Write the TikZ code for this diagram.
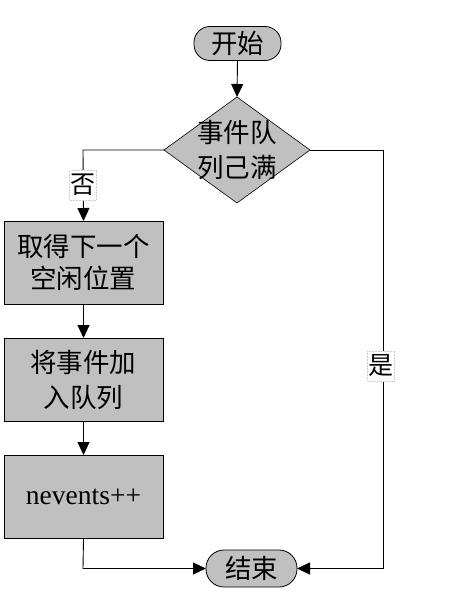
\documentclass[tikz,border=0pt]{standalone}
\usepackage{fontspec}
\setmainfont{Liberation Serif}
\newfontfamily\cjk{Noto Sans CJK SC}
\usetikzlibrary{shapes.geometric,arrows.meta}
\definecolor{boxgray}{HTML}{C0C0C0}
\tikzset{
  every node/.style={inner sep=0pt, outer sep=0pt},
  term/.style={draw=black, line width=0.8pt, fill=boxgray, rounded corners=16pt, minimum width=87pt, minimum height=34pt},
  procbox/.style={draw=black, line width=0.8pt, fill=boxgray, minimum width=159pt, minimum height=83pt},
  decbox/.style={draw=black, line width=0.6pt, fill=boxgray, diamond, minimum width=146pt, minimum height=106pt},
  txt/.style={font=\cjk\fontsize{26.5}{35}\selectfont, align=center, text=black},
  lbl/.style={fill=white, draw=gray!40, densely dotted, line width=0.5pt, inner xsep=1pt, inner ysep=4pt, font=\cjk\fontsize{25}{30}\selectfont},
  conn/.style={draw=black, line width=0.9pt, -{Triangle[width=12pt,length=13pt]}},
  plainline/.style={draw=black, line width=0.9pt}
}
\begin{document}
\begin{tikzpicture}[x=1pt,y=-1pt]
\useasboundingbox (0,0) rectangle (456,600);
\node[term] (start) at (237.5,43.5) {};
\node[txt] (starttxt) at (start) {开始};
\node[decbox] (dec) at (237,150) {};
\node[txt] (dectxt) at (237,150) {事件队\\列己满};
\node[procbox] (box1) at (83.5,262.5) {};
\node[txt, font=\cjk\fontsize{26.5}{32}\selectfont] (box1txt) at (box1) {取得下一个\\空闲位置};
\node[procbox] (box2) at (83.5,379.5) {};
\node[txt] (box2txt) at (box2) {将事件加\\入队列};
\node[procbox] (box3) at (83.5,496.5) {};
\node[font=\fontsize{27.5}{30}\selectfont] (box3txt) at (box3) {nevents++};
\node[term, minimum width=91pt, minimum height=37pt, rounded corners=18pt] (end) at (251.5,568.5) {};
\node[txt] (endtxt) at (end) {结束};
\coordinate (cL) at (83,150);
\coordinate (cR) at (383,150);
\coordinate (cB) at (83,568.5);
\draw[conn] (start.south) -- (dec.north);
\draw[conn] (dec.west) -- (cL) -- (box1.north);
\draw[conn] (box1.south) -- (box2.north);
\draw[conn] (box2.south) -- (box3.north);
\draw[conn] (box3.south) -- (cB) -- (end.west);
\draw[conn] (dec.east) -- (cR) |- (end.east);
\node[lbl] (no) at (83,185) {否};
\node[lbl] (yes) at (381,366) {是};
\end{tikzpicture}
\end{document}
